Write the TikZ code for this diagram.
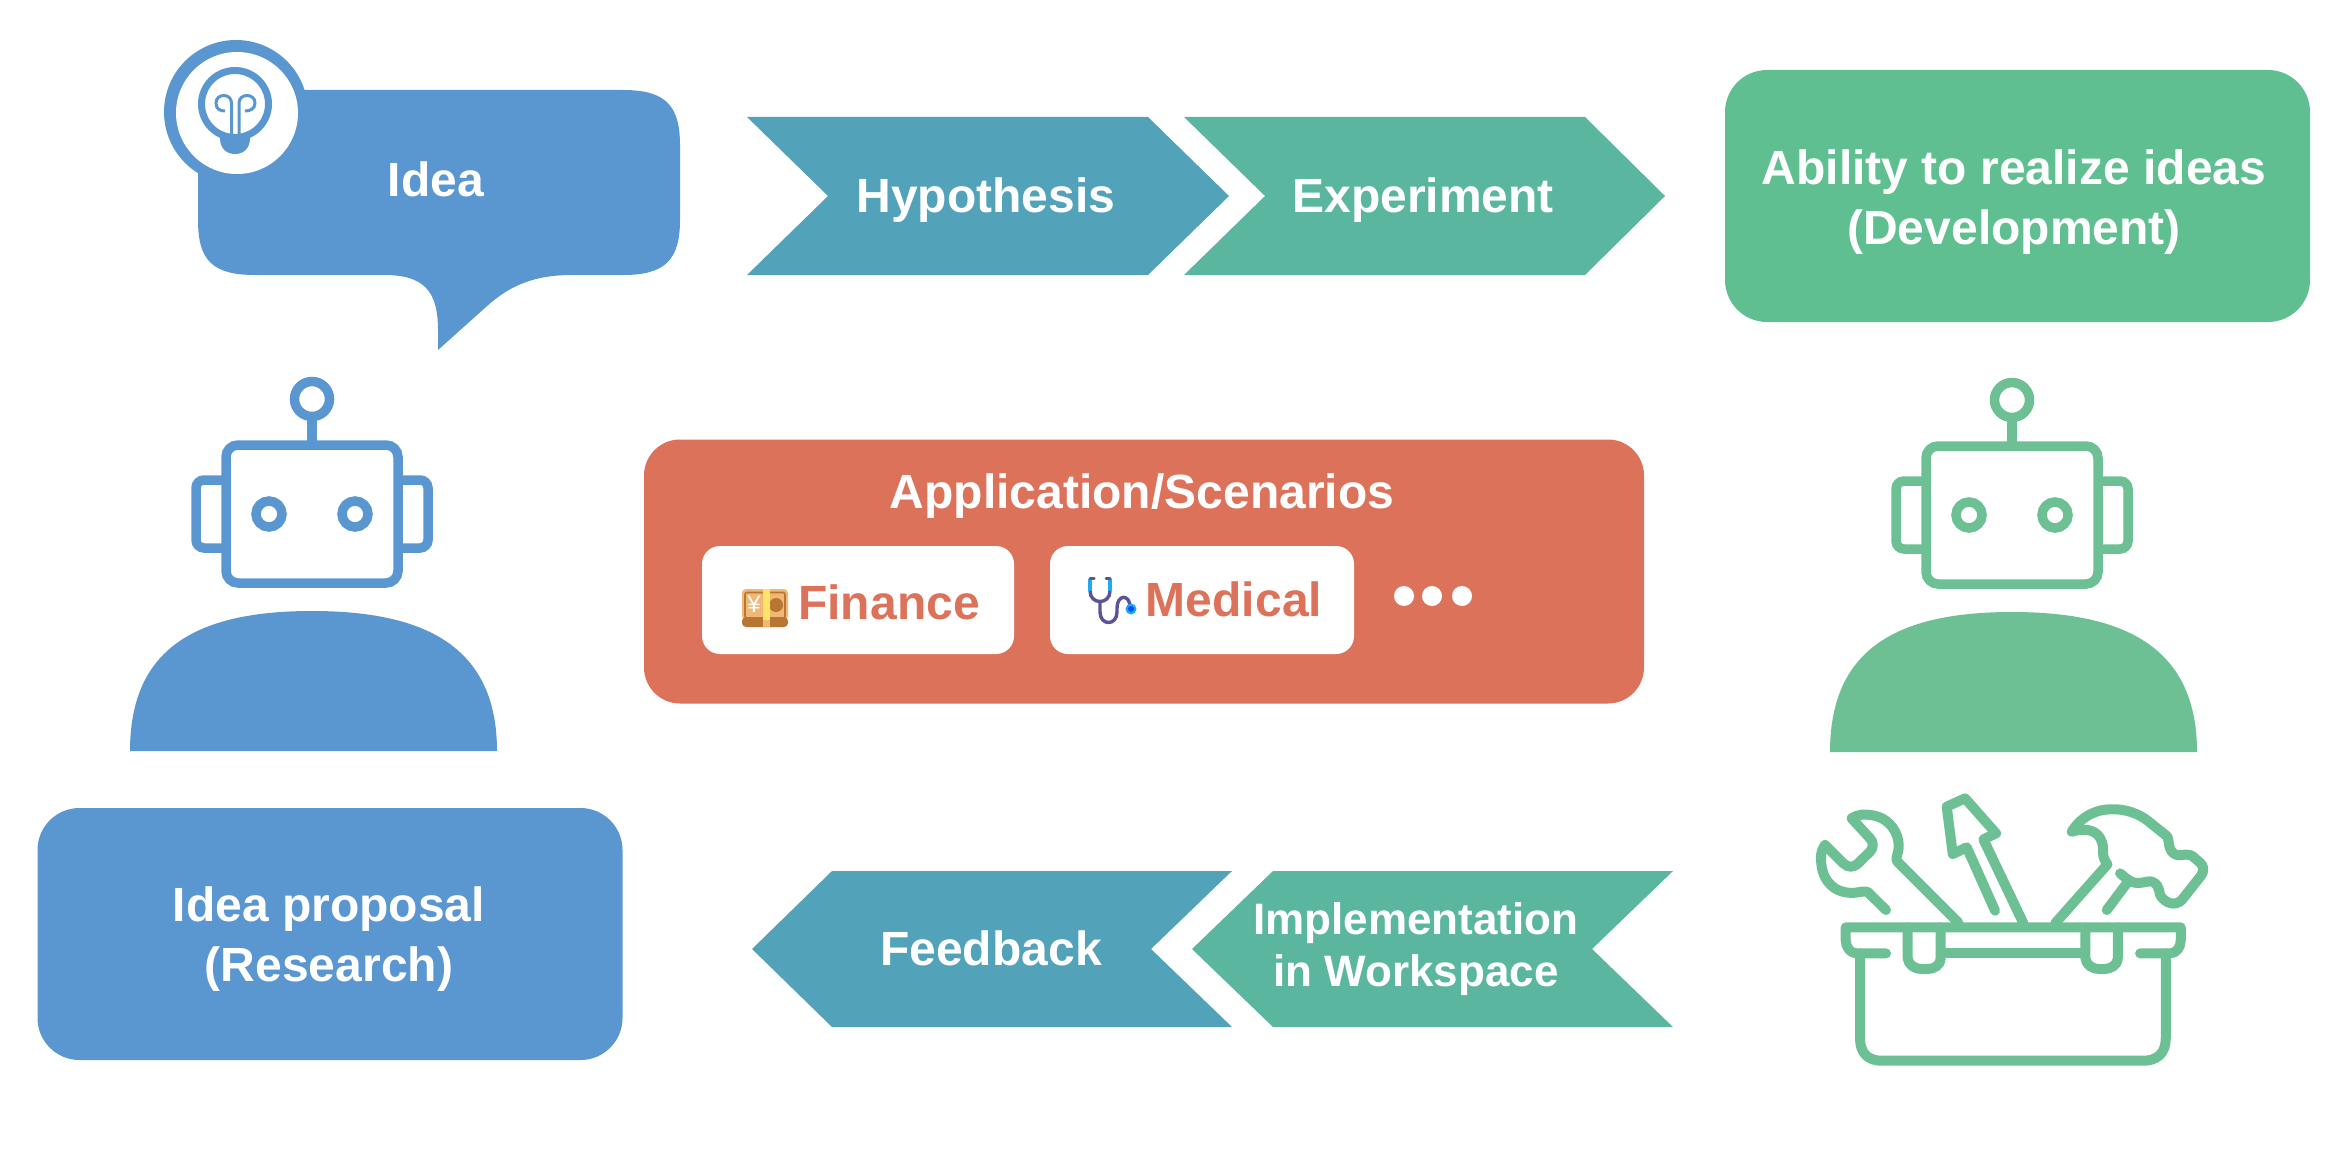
\documentclass[tikz,border=0pt]{standalone}
\usepackage{fontspec}
\setmainfont{Liberation Sans}
\usepackage{tikz}
\usetikzlibrary{positioning}
\definecolor{ideablue}{HTML}{5A96D0}
\definecolor{hypoteal}{HTML}{52A3BA}
\definecolor{expteal}{HTML}{5BB6A0}
\definecolor{abilitygreen}{HTML}{60BF90}
\definecolor{robotgreen}{HTML}{6CC093}
\definecolor{appred}{HTML}{DD725B}
\definecolor{billtan}{HTML}{F0B874}
\definecolor{billbrown}{HTML}{B97633}
\definecolor{billband}{HTML}{FFE566}
\definecolor{tubeviolet}{HTML}{5C5299}
\definecolor{tubecyan}{HTML}{1EAAEE}
\begin{document}
\begin{tikzpicture}[
    x=0.5pt, y=-0.5pt,
    label/.style={text=white, font=\fontsize{24}{30}\selectfont\bfseries, align=center, inner sep=0pt},
    biglabel/.style={label, minimum height=126pt, rounded corners=21pt, draw=none},
    chiplabel/.style={text=appred, font=\fontsize{24}{30}\selectfont\bfseries, inner sep=0pt, anchor=base},
    chipbox/.style={fill=white, rounded corners=9pt, minimum height=54pt, inner sep=0pt},
    pics/robot/.style={code={
        \draw[#1, line width=4.75pt] (0,0) circle [radius=17.5];
        \draw[#1, line width=4.75pt] (0,22) -- (0,46);
        \draw[#1, line width=4.75pt, rounded corners=6pt] (-86,46) rectangle (86,184);
        \draw[#1, line width=4.75pt, rounded corners=4pt] (-86,81) -- (-116,81) -- (-116,149) -- (-86,149);
        \draw[#1, line width=4.75pt, rounded corners=4pt] (86,81) -- (116,81) -- (116,149) -- (86,149);
        \draw[#1, line width=4.75pt] (-43,115) circle [radius=13];
        \draw[#1, line width=4.75pt] (43,115) circle [radius=13];
        \fill[#1] (-182,352) .. controls (-182,251) and (-118,212) .. (0,212)
            .. controls (118,212) and (185,251) .. (185,352) -- cycle;
    }}
]
\useasboundingbox (0,0) rectangle (2348,1172);

% Idea bubble
\fill[ideablue] (236,112) circle [radius=72];
\fill[ideablue] (198,145) .. controls (198,105) and (212,90) .. (255,90) -- (623,90)
    .. controls (665,90) and (680,105) .. (680,145) -- (680,220)
    .. controls (680,260) and (665,275) .. (623,275) -- (572,275)
    .. controls (535,275) and (510,285) .. (486,307) -- (438,350) -- (438,330)
    .. controls (438,290) and (423,275) .. (384,275) -- (255,275)
    .. controls (212,275) and (198,260) .. (198,220) -- cycle;
\fill[white] (237,113) circle [radius=61];
\node[label] (idea) at (436,179) {Idea};

% Bulb
\draw[ideablue, line width=3.5pt] (235,104) circle [radius=33.5];
\fill[ideablue] (220,135) -- (250,135) -- (250,138) .. controls (250,149) and (243,154) .. (235,154)
    .. controls (227,154) and (220,149) .. (220,138) -- cycle;
\draw[ideablue, line width=1.5pt] (231.5,135) -- (231.5,103) .. controls (231.5,93) and (216,93) .. (216,103)
    .. controls (216,109) and (220,111) .. (225,111);
\draw[ideablue, line width=1.5pt] (239,135) -- (239,103) .. controls (239,93) and (255,93) .. (255,103)
    .. controls (255,109) and (250,111) .. (245,111);

% Upper chevrons
\fill[hypoteal] (747,117) -- (1148,117) -- (1229,196) -- (1148,275) -- (747,275) -- (828,196) -- cycle;
\fill[expteal] (1184,117) -- (1585,117) -- (1665,196) -- (1585,275) -- (1184,275) -- (1265,196) -- cycle;
\node[label] (hypothesis) at (986,200) {Hypothesis};
\node[label] (experiment) at (1423,200) {Experiment};

% Ability box
\node[biglabel, fill=abilitygreen, minimum width=292.5pt, text depth=0pt] (ability) at (2017.5,196) {};
\node[label] (abilitytext) at (2014,202) {Ability to realize ideas\\(Development)};

% Robots
\pic (robot0) at (312,399) {robot=ideablue};
\pic (robot1) at (2012,400) {robot=robotgreen};

% Application box
\node[fill=appred, rounded corners=18pt, minimum width=500pt, minimum height=132pt] (app) at (1144,571.5) {};
\node[label] (apptitle) at (1142,496) {Application/Scenarios};
\node[chipbox, minimum width=156pt] (financebox) at (858,600) {};
\node[chipbox, minimum width=152pt] (medicalbox) at (1202,600) {};
\node[chiplabel] (finance) at (889,619) {Finance};
\node[chiplabel] (medical) at (1234,616) {Medical};
\foreach \x in {1404,1432,1462}
    \fill[white] (\x,596) circle [radius=10];

% Finance icon
\fill[billtan, rounded corners=2pt] (742,589) rectangle (788,620);
\fill[billbrown, rounded corners=2pt] (742,617) rectangle (788,627);
\draw[billbrown, line width=0.8pt, rounded corners=1pt] (745,592.5) rectangle (785,618);
\fill[billbrown] (776,605) circle [radius=7];
\fill[billband] (763,589) rectangle (770,620);
\fill[billtan] (763,620) rectangle (770,627);
\node[text=white, font=\fontsize{12}{12}\selectfont, inner sep=0pt] (yen) at (754,604) {¥};

% Stethoscope icon
\draw[tubecyan, line width=1.7pt] (1090,579) -- (1090,591);
\draw[tubecyan, line width=1.7pt] (1110,579) -- (1110,591);
\draw[tubeviolet, line width=1.5pt, line cap=round] (1090,578) -- (1094,578);
\draw[tubeviolet, line width=1.5pt, line cap=round] (1110,578) -- (1106,578);
\draw[tubeviolet, line width=1.7pt] (1090,591) .. controls (1090,605) and (1110,605) .. (1110,591);
\draw[tubeviolet, line width=1.7pt] (1100,601) -- (1100,612)
    .. controls (1100,626) and (1117,626) .. (1117,612) -- (1117,608)
    .. controls (1117,594) and (1130,594) .. (1130,607);
\fill[tubecyan] (1131,609) circle [radius=5.5];
\fill[blue!70!cyan] (1131,609) circle [radius=3];

% Research box
\node[biglabel, fill=ideablue, minimum width=292.5pt] (research) at (330,934) {};
\node[label] (researchtext) at (329,939) {Idea proposal\\(Research)};

% Lower chevrons
\fill[hypoteal] (752,949) -- (832,871) -- (1232,871) -- (1151,949) -- (1232,1027) -- (832,1027) -- cycle;
\fill[expteal] (1192,949) -- (1273,871) -- (1673,871) -- (1592,949) -- (1673,1027) -- (1273,1027) -- cycle;
\node[label] (feedback) at (991,948) {Feedback};
\node[label, font=\fontsize{22}{26}\selectfont\bfseries] (workspace) at (1416,949) {Implementation\\in Workspace};

% Toolbox
\begin{scope}[shift={(1780,770)}, x=0.1667pt, y=-0.1667pt, robotgreen, line width=5pt, line cap=round, line join=round]
\draw (240,550) -- (240,805) .. controls (240,850) and (265,872) .. (305,872) -- (1090,872)
    .. controls (1130,872) and (1157,850) .. (1157,805) -- (1157,550);
\draw (318,550) -- (230,550) .. controls (210,550) and (197,530) .. (197,510) -- (197,472) -- (1202,472)
    -- (1202,510) .. controls (1202,530) and (1190,550) .. (1170,550) -- (1080,550);
\draw (482,550) -- (915,550);
\draw (383,472) -- (383,565) .. controls (385,585) and (405,597) .. (425,597) -- (442,597)
    .. controls (462,597) and (482,585) .. (482,565) -- (482,472);
\draw (916,472) -- (916,565) .. controls (918,585) and (938,597) .. (958,597) -- (972,597)
    .. controls (992,597) and (1013,585) .. (1013,565) -- (1013,472);
% Wrench
\draw (318,420) -- (262,365) .. controls (240,362) and (225,372) .. (205,368)
    .. controls (150,362) and (123,320) .. (123,265) .. controls (122,250) and (127,235) .. (135,225)
    -- (190,280) .. controls (205,294) and (220,292) .. (232,282) -- (270,245)
    .. controls (282,232) and (280,215) .. (270,205) -- (215,145)
    .. controls (235,132) and (255,132) .. (270,135) .. controls (330,140) and (362,195) .. (355,240)
    .. controls (353,255) and (345,265) .. (352,275) -- (535,458);
% Screwdriver
\draw (645,422) -- (560,232) -- (518,252) -- (500,110) -- (555,85) -- (648,190) -- (610,208) -- (730,460);
% Hammer
\draw (825,460) -- (982,283) .. controls (960,255) and (975,240) .. (965,215)
    .. controls (955,185) and (925,170) .. (875,185) .. controls (905,135) and (955,118) .. (990,118)
    .. controls (1040,115) and (1080,135) .. (1100,150) -- (1160,198)
    .. controls (1170,210) and (1160,245) .. (1190,255) .. controls (1210,258) and (1225,245) .. (1245,265)
    -- (1262,280) .. controls (1272,290) and (1272,305) .. (1262,318) -- (1205,390)
    .. controls (1185,410) and (1155,400) .. (1140,375) .. controls (1135,345) and (1125,330) .. (1100,335)
    .. controls (1060,345) and (1050,335) .. (1020,310);
\draw (1040,340) -- (980,420);
\end{scope}
\end{tikzpicture}
\end{document}
